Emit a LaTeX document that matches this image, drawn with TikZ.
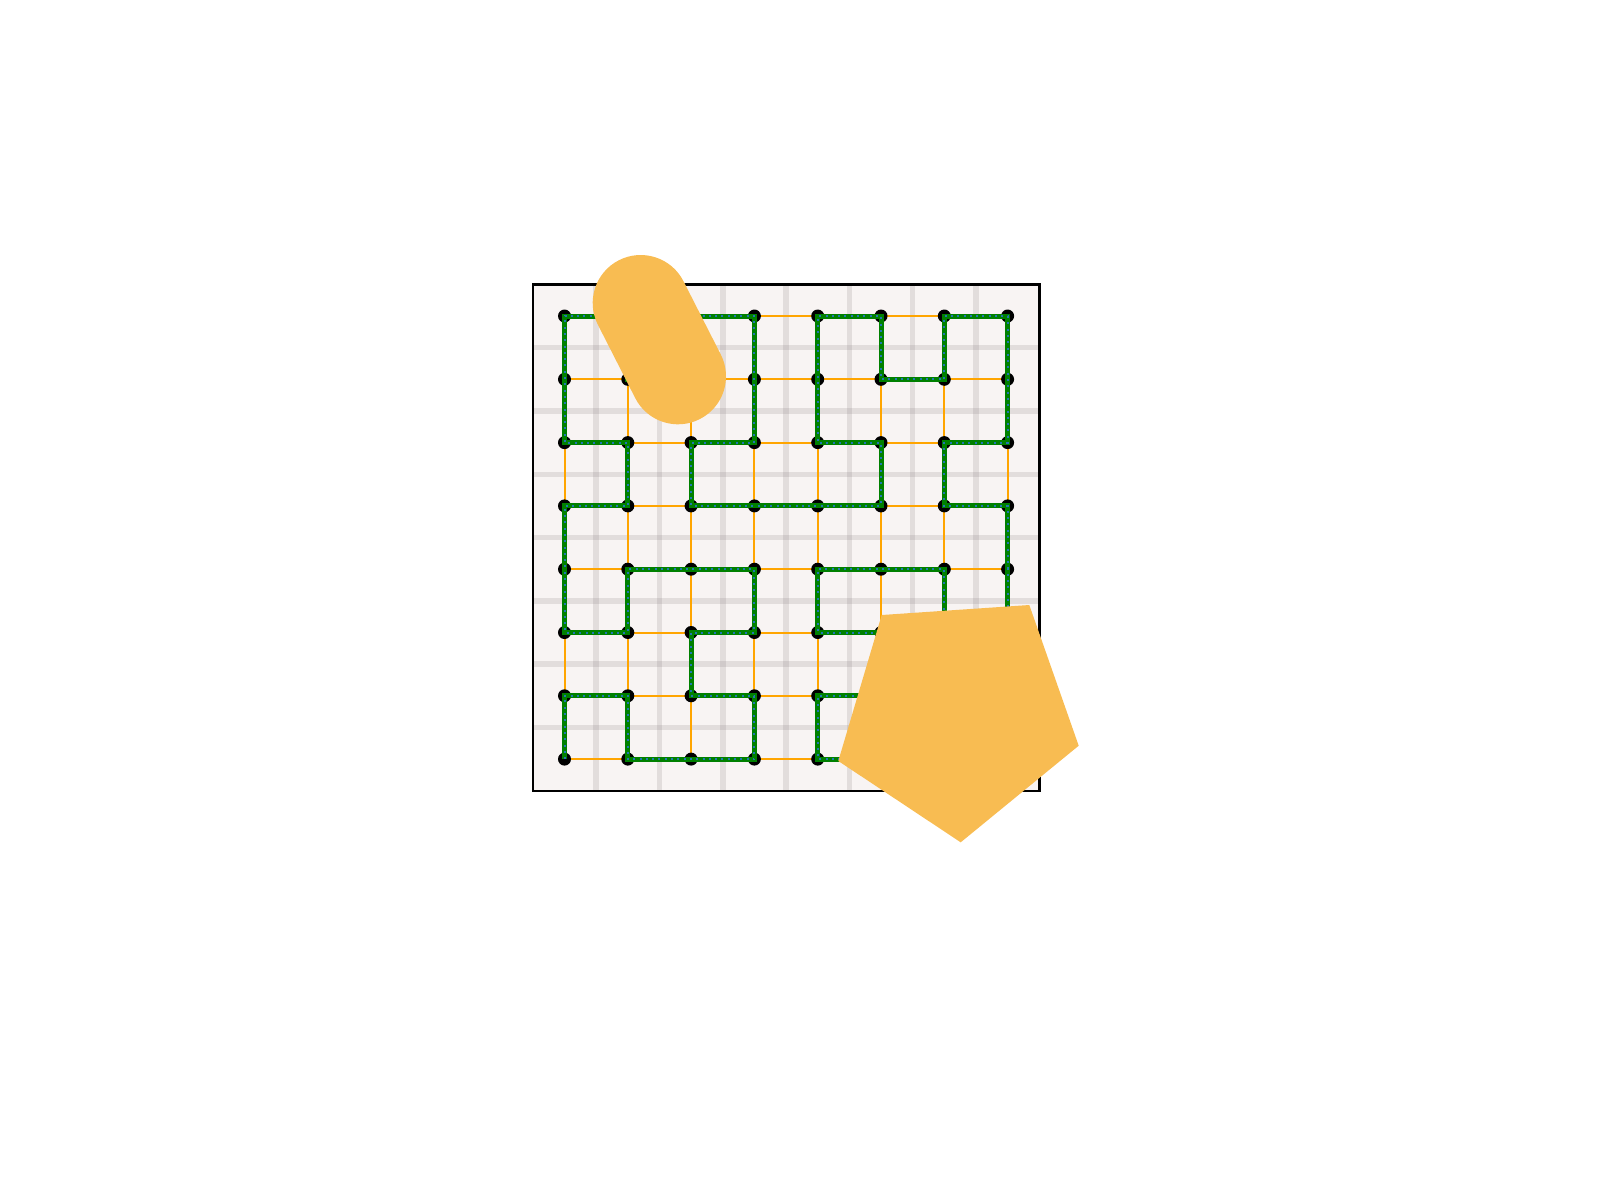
\documentclass[tikz,border=0pt]{standalone}
\definecolor{capcol}{HTML}{F8BC52}
\definecolor{bgbox}{HTML}{F8F4F3}
\definecolor{edgeor}{HTML}{FFA500}
\definecolor{pathgreen}{HTML}{008000}
\definecolor{pathblue}{HTML}{1F77B4}
\definecolor{gridgray}{HTML}{8C8282}
\begin{document}
\begin{tikzpicture}[x=1pt,y=-1pt,
  dotnode/.style={circle,fill=black,minimum size=13pt,inner sep=0pt},
  boxfill/.style={fill=bgbox,draw=none},
  boxline/.style={draw=black,line width=2.5pt},
  gridline/.style={draw=gridgray,draw opacity=0.2,line width=5.5pt},
  latedge/.style={draw=edgeor,line width=2pt},
  greenpath/.style={draw=pathgreen,line width=5pt},
  bluedots/.style={draw=pathblue,line width=2pt,dash pattern=on 2pt off 4.3pt},
  blob/.style={fill=capcol,draw=none}]
\useasboundingbox (0,0) rectangle (1600,1200);
% frame
\coordinate (bA) at (532.85,284.35);
\coordinate (bB) at (1039.3,790.75);
\path[boxfill] (bA) rectangle (bB);
\foreach \k in {0,...,6}{
  \draw[gridline] ({564.5+63.3*(\k+0.5)},285.6) -- ({564.5+63.3*(\k+0.5)},789.5);
  \draw[gridline] (534.1,{316+63.3*(\k+0.5)}) -- (1038,{316+63.3*(\k+0.5)});
}
\draw[boxline] (bA) rectangle (bB);
% lattice points
\foreach \i in {0,...,7}{
  \foreach \j in {0,...,7}{
    \coordinate (p-\i-\j) at ({564.5+63.3*\i},{316+63.3*\j});
  }
}
% orange lattice edges
\foreach \i in {0,...,7}{
  \foreach \j [evaluate=\j as \jn using int(\j+1)] in {0,...,6}{
    \draw[latedge] (p-\i-\j) -- (p-\i-\jn);
    \draw[latedge] (p-\j-\i) -- (p-\jn-\i);
  }
}
% dots
\foreach \i in {0,...,7}{
  \foreach \j in {0,...,7}{
    \node[dotnode] (n-\i-\j) at (p-\i-\j) {};
  }
}
% green path
\def\pathlist{0/6,1/6,1/7,2/7,3/7,3/6,2/6,2/5,3/5,3/4,2/4,1/4,1/5,0/5,0/4,0/3,1/3,1/2,0/2,0/1,0/0,1/0,1/1,2/1,2/0,3/0,3/1,3/2,2/2,2/3,3/3,4/3,5/3,5/2,4/2,4/1,4/0,5/0,5/1,6/1,6/0,7/0,7/1,7/2,6/2,6/3,7/3,7/4,7/5,7/6,7/7,6/7,5/7,4/7,4/6,5/6,5/5,4/5,4/4,5/4,6/4,6/5,6/6}
\draw[greenpath] (n-0-7.center) \foreach \a/\b in \pathlist {-- (n-\a-\b.center)};
\draw[bluedots] (n-0-7.center) \foreach \a/\b in \pathlist {-- (n-\a-\b.center)};
% capsule
\coordinate (c1) at (640.7,303);
\coordinate (c2) at (678,376.3);
\draw[draw=capcol,line width=96pt,line cap=round] (c1) -- (c2);
% pentagon
\coordinate (q1) at (881.7,615);
\coordinate (q2) at (1029.3,605);
\coordinate (q3) at (1078.7,745.7);
\coordinate (q4) at (960.7,842.3);
\coordinate (q5) at (838.3,761);
\path[blob] (q1) -- (q2) -- (q3) -- (q4) -- (q5) -- cycle;
\end{tikzpicture}
\end{document}
